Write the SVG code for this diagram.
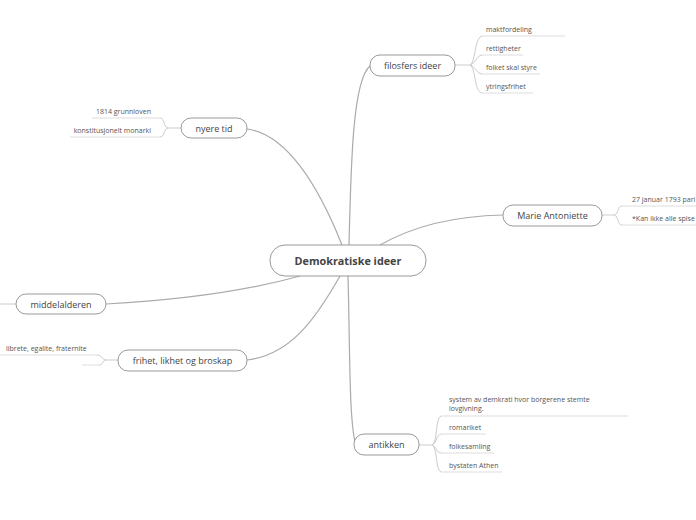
<svg xmlns="http://www.w3.org/2000/svg" width="696" height="520" viewBox="0 0 696 520">
<style>
.node rect{fill:#fff;stroke:#999;stroke-width:1}
.main{font-family:"Open Sans","Liberation Sans",sans-serif;font-size:9px;fill:#444;text-anchor:middle}
.root{font-family:"Open Sans","Liberation Sans",sans-serif;font-size:10.8px;font-weight:bold;fill:#444;text-anchor:middle}
.sub{font-family:"Open Sans","Liberation Sans",sans-serif;font-size:7px;fill:#555}
.c{fill:none;stroke:#aaa;stroke-width:1.2}
.b{fill:none;stroke:#ccc;stroke-width:1}
.u{fill:none;stroke:#ddd;stroke-width:1}
</style>
<rect width="696" height="520" fill="#fff"/>
<g id="connectors">
<path class="c" d="M349,245 C351,160 353,80 370,66"/>
<path class="c" d="M342,245 C322,195 290,135 247,129"/>
<path class="c" d="M380,245 C410,228 450,216 503,215"/>
<path class="c" d="M300,276 C250,290 180,300 106,304"/>
<path class="c" d="M340,276 C315,320 290,355 247,360"/>
<path class="c" d="M348,276 C350,350 349,425 356,445"/>
<path class="b" d="M455,65 H470"/>
<path class="b" d="M470,65 C476,62 474,38 482,36"/>
<path class="b" d="M470,65 C476,63 476,56 482,55"/>
<path class="b" d="M470,65 C476,67 476,73 482,74"/>
<path class="b" d="M470,65 C476,68 474,92 482,93"/>
<path class="b" d="M181,128 H168"/>
<path class="b" d="M168,128 C163,127 165,118 160,118"/>
<path class="b" d="M168,128 C163,129 165,137 160,137"/>
<path class="b" d="M602,215 H614"/>
<path class="b" d="M614,215 C619,214 617,206 622,206"/>
<path class="b" d="M614,215 C619,216 617,225 622,225"/>
<path class="b" d="M16,304 H0"/>
<path class="b" d="M118,360 H106"/>
<path class="b" d="M106,360 C101,359 102,355 97,355"/>
<path class="b" d="M106,360 C101,361 104,365 99,365"/>
<path class="b" d="M419,445 H432"/>
<path class="b" d="M432,445 C438,442 435,418 441,416"/>
<path class="b" d="M432,445 C437,443 436,435 441,434"/>
<path class="b" d="M432,445 C437,447 436,453 441,453"/>
<path class="b" d="M432,445 C438,448 435,470 441,472"/>
</g>
<g id="root" class="node"><rect x="270" y="245" width="156" height="31" rx="15"/><text class="root" x="348" y="265">Demokratiske ideer</text></g>
<g id="filosfers" class="node"><rect x="370" y="55" width="85" height="21" rx="10"/><text class="main" x="412.5" y="69">filosfers ideer</text></g>
<g id="fil-1"><text class="sub" x="486" y="32">maktfordeling</text><path class="u" d="M482,36 H565"/></g>
<g id="fil-2"><text class="sub" x="486" y="51">rettigheter</text><path class="u" d="M482,55 H523"/></g>
<g id="fil-3"><text class="sub" x="486" y="70">folket skal styre</text><path class="u" d="M482,74 H540"/></g>
<g id="fil-4"><text class="sub" x="486" y="89">ytringsfrihet</text><path class="u" d="M482,93 H533"/></g>
<g id="nyere" class="node"><rect x="181" y="118" width="66" height="20" rx="10"/><text class="main" x="214" y="131.5">nyere tid</text></g>
<g id="ny-1"><text class="sub" x="151" y="114" text-anchor="end">1814 grunnloven</text><path class="u" d="M92,118 H160"/></g>
<g id="ny-2"><text class="sub" x="151" y="133" text-anchor="end">konstitusjonelt monarki</text><path class="u" d="M70,137 H160"/></g>
<g id="marie" class="node"><rect x="503" y="205" width="99" height="21" rx="10"/><text class="main" x="552.5" y="218.5">Marie Antoniette</text></g>
<g id="ma-1"><text class="sub" x="632" y="202">27 januar 1793 pari</text><path class="u" d="M622,206 H696"/></g>
<g id="ma-2"><text class="sub" x="632" y="221">*Kan ikke alle spise</text><path class="u" d="M622,225 H696"/></g>
<g id="middel" class="node"><rect x="16" y="294" width="90" height="20" rx="10"/><text class="main" x="61" y="307.5">middelalderen</text></g>
<g id="frihet" class="node"><rect x="118" y="350" width="129" height="21" rx="10"/><text class="main" x="182.5" y="363.5">frihet, likhet og broskap</text></g>
<g id="fr-1"><text class="sub" x="6" y="351">librete, egalite, fraternite</text><path class="u" d="M0,355 H97"/></g>
<g id="fr-2"><path class="u" d="M82,365 H99"/></g>
<g id="antikken" class="node"><rect x="354" y="434" width="65" height="21" rx="10"/><text class="main" x="386.5" y="447.5">antikken</text></g>
<g id="an-1"><text class="sub" x="449" y="402">system av demkrati hvor borgerene stemte</text><text class="sub" x="449" y="411">lovgivning.</text><path class="u" d="M441,416 H628"/></g>
<g id="an-2"><text class="sub" x="449" y="430">romariket</text><path class="u" d="M441,434 H486"/></g>
<g id="an-3"><text class="sub" x="449" y="449">folkesamling</text><path class="u" d="M441,453 H494"/></g>
<g id="an-4"><text class="sub" x="449" y="468">bystaten Athen</text><path class="u" d="M441,472 H502"/></g>
</svg>
